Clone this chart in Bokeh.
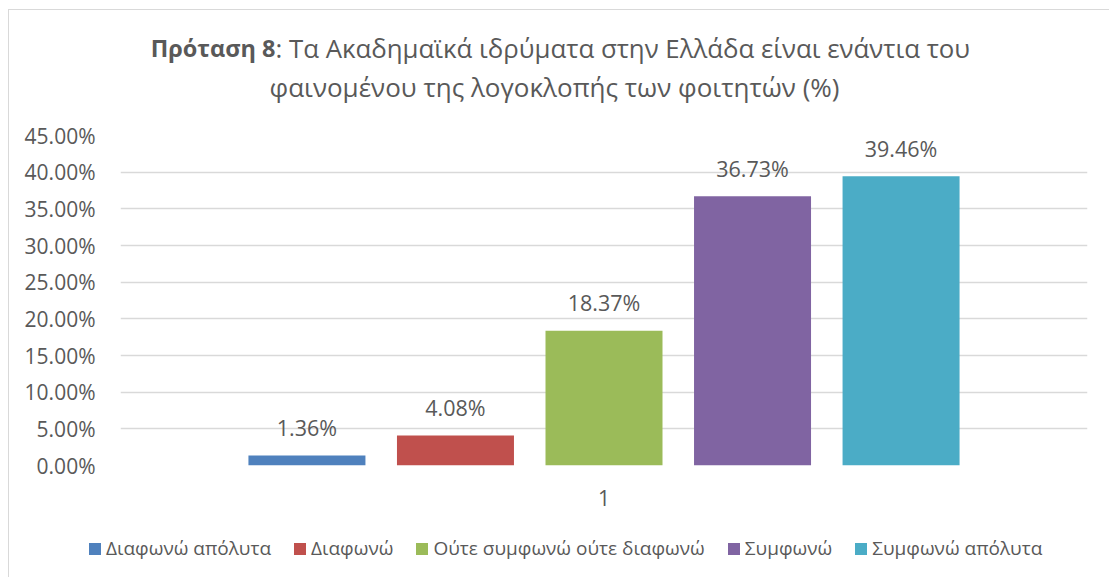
from bokeh.plotting import figure
from bokeh.layouts import column
from bokeh.models import (FactorRange, Range1d, Legend, LegendItem, Label,
                          PrintfTickFormatter, FixedTicker, ColumnDataSource)
from bokeh.transform import dodge
from bokeh.core.properties import value
from bokeh.embed import file_html
from bokeh.resources import INLINE

# ---- data ----
category = ["1"]
series_names = ["Διαφωνώ απόλυτα", "Διαφωνώ", "Ούτε συμφωνώ ούτε διαφωνώ",
                "Συμφωνώ", "Συμφωνώ απόλυτα"]
series_values = [1.36, 4.08, 18.37, 36.73, 39.46]
series_colors = ["#4F81BD", "#C0504D", "#9BBB59", "#8064A2", "#4BACC6"]
y_ticks = [0, 5, 10, 15, 20, 25, 30, 35, 40, 45]
title_bold = "Πρόταση 8"
title_rest = ": Τα Ακαδημαϊκά ιδρύματα στην Ελλάδα είναι ενάντια του"
title_line2 = "φαινομένου της λογοκλοπής των φοιτητών (%)"

FONT = "Open Sans"
TXT = "#595959"
W = 1100


def bare(fig):
    fig.outline_line_color = None
    fig.background_fill_color = "white"
    fig.border_fill_color = "white"
    fig.xgrid.visible = False
    fig.ygrid.visible = False
    fig.xaxis.visible = False
    fig.yaxis.visible = False
    return fig


# ---- title strip ----
pt = bare(figure(width=W, height=110, x_range=Range1d(0, 1), y_range=Range1d(0, 1),
                 output_backend="svg", toolbar_location=None,
                 min_border=0, frame_align=False))
pt.add_layout(Label(x=266, y=73, x_units="screen", y_units="screen", text=title_bold,
                    text_align="right", text_baseline="alphabetic",
                    text_font=FONT, text_font_size="23.5px", text_font_style="bold",
                    text_color=TXT))
pt.add_layout(Label(x=266, y=73, x_units="screen", y_units="screen", text=title_rest,
                    text_align="left", text_baseline="alphabetic",
                    text_font=FONT, text_font_size="25.8px", text_color=TXT))
pt.add_layout(Label(x=545, y=34, x_units="screen", y_units="screen", text=title_line2,
                    text_align="center", text_baseline="alphabetic",
                    text_font=FONT, text_font_size="26px", text_color=TXT))

# ---- main chart ----
p = figure(width=W, height=395, x_range=FactorRange(factors=category),
           y_range=Range1d(0, 45), output_backend="svg", toolbar_location=None,
           min_border_left=111, min_border_right=22, min_border_top=15,
           min_border_bottom=50, frame_align=False)
p.outline_line_color = None
p.background_fill_color = "white"
p.border_fill_color = "white"
p.yaxis.ticker = FixedTicker(ticks=y_ticks)
p.yaxis.formatter = PrintfTickFormatter(format="%.2f%%")
for ax in (p.xaxis[0], p.yaxis[0]):
    ax.axis_line_color = None
    ax.major_tick_line_color = None
    ax.minor_tick_line_color = None
    ax.major_label_text_font = FONT
    ax.major_label_text_font_size = "21px"
    ax.major_label_text_color = TXT
p.yaxis.major_label_standoff = 19
p.xaxis.major_label_standoff = 18
p.xgrid.grid_line_color = None
p.ygrid.grid_line_color = "#D9D9D9"
p.ygrid.grid_line_width = 1.3

pitch = 0.1536
bw = 0.121
for i, (v, c) in enumerate(zip(series_values, series_colors)):
    off = (i - 2) * pitch
    src = ColumnDataSource(dict(x=category, y=[v], lab=[f"{v:.2f}%"]))
    p.vbar(x=dodge("x", off, range=p.x_range), top="y", width=bw, source=src,
           color=c, line_color=None)
    p.text(x=dodge("x", off, range=p.x_range), y="y", text="lab", source=src,
           text_align="center", text_baseline="alphabetic", y_offset=-28,
           text_font=value(FONT), text_font_size="21.5px", text_color=TXT)

# ---- legend strip (same series, zero-width bars: only the legend shows) ----
pl = bare(figure(width=W, height=62, x_range=FactorRange(factors=category),
                 y_range=Range1d(0, 45), output_backend="svg",
                 toolbar_location=None, min_border=0, frame_align=False))
items = []
for name, v, c in zip(series_names, series_values, series_colors):
    r = pl.vbar(x=category, top=[v], width=0, color=c, line_color=None)
    items.append(LegendItem(label=name, renderers=[r]))
legend = Legend(items=items, orientation="horizontal", location=(78, 16),
                glyph_width=15, glyph_height=15, label_standoff=4, spacing=21,
                padding=0, margin=0, border_line_color=None,
                background_fill_alpha=0,
                label_text_font=FONT, label_text_font_size="19px",
                label_text_color=TXT)
pl.add_layout(legend, "center")

layout = column(pt, p, pl, spacing=0)
layout.styles = {"margin-left": "8px", "margin-top": "9px",
                 "border-left": "1px solid #D9D9D9", "border-top": "1px solid #D9D9D9"}

open("out.html", "w").write(file_html(layout, INLINE))
